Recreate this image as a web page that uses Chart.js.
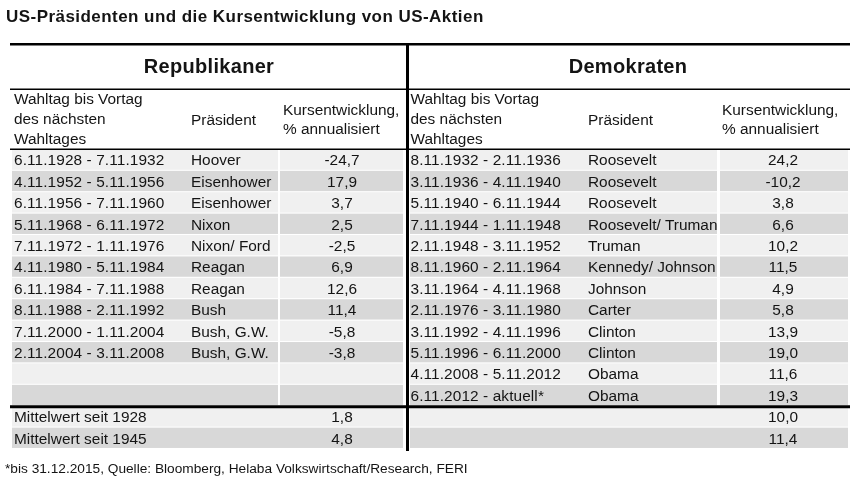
<!DOCTYPE html>
<html>
<head>
  <meta charset="utf-8">
  <title>US-Präsidenten und die Kursentwicklung von US-Aktien</title>
  <script src="https://cdn.jsdelivr.net/npm/chart.js"></script>
  <style>
    html, body { margin: 0; padding: 0; background: #fff; }
    #chart { display: block; }
  </style>
</head>
<body>
  <canvas id="chart" width="850" height="480"></canvas>
  <script>
    // texts
    const title = 'US-Präsidenten und die Kursentwicklung von US-Aktien';
    const parties = ['Republikaner', 'Demokraten'];
    const headPeriod = ['Wahltag bis Vortag', 'des nächsten', 'Wahltages'];
    const headPresident = 'Präsident';
    const headReturn = ['Kursentwicklung,', '% annualisiert'];
    const meanLabels = ['Mittelwert seit 1928', 'Mittelwert seit 1945'];
    const footnote = '*bis 31.12.2015, Quelle: Bloomberg, Helaba Volkswirtschaft/Research, FERI';

    // Republikaner
    const repPeriods = ['6.11.1928 - 7.11.1932', '4.11.1952 - 5.11.1956', '6.11.1956 - 7.11.1960',
      '5.11.1968 - 6.11.1972', '7.11.1972 - 1.11.1976', '4.11.1980 - 5.11.1984', '6.11.1984 - 7.11.1988',
      '8.11.1988 - 2.11.1992', '7.11.2000 - 1.11.2004', '2.11.2004 - 3.11.2008'];
    const repPresidents = ['Hoover', 'Eisenhower', 'Eisenhower', 'Nixon', 'Nixon/ Ford', 'Reagan',
      'Reagan', 'Bush', 'Bush, G.W.', 'Bush, G.W.'];
    const repReturns = [-24.7, 17.9, 3.7, 2.5, -2.5, 6.9, 12.6, 11.4, -5.8, -3.8];
    const repMeans = [1.8, 4.8];

    // Demokraten
    const demPeriods = ['8.11.1932 - 2.11.1936', '3.11.1936 - 4.11.1940', '5.11.1940 - 6.11.1944',
      '7.11.1944 - 1.11.1948', '2.11.1948 - 3.11.1952', '8.11.1960 - 2.11.1964', '3.11.1964 - 4.11.1968',
      '2.11.1976 - 3.11.1980', '3.11.1992 - 4.11.1996', '5.11.1996 - 6.11.2000', '4.11.2008 - 5.11.2012',
      '6.11.2012 - aktuell*'];
    const demPresidents = ['Roosevelt', 'Roosevelt', 'Roosevelt', 'Roosevelt/ Truman', 'Truman',
      'Kennedy/ Johnson', 'Johnson', 'Carter', 'Clinton', 'Clinton', 'Obama', 'Obama'];
    const demReturns = [24.2, -10.2, 3.8, 6.6, 10.2, 11.5, 4.9, 5.8, 13.9, 19.0, 11.6, 19.3];
    const demMeans = [10.0, 11.4];

    // layout (x in page units, y in table rows)
    const dataRows = 12;
    const sides = [
      { name: parties[0], periods: repPeriods, presidents: repPresidents, returns: repReturns, means: repMeans,
        bandA: [12, 278], bandB: [280, 403], date: 14, pres: 191, kurs: 283, val: 342, center: 209 },
      { name: parties[1], periods: demPeriods, presidents: demPresidents, returns: demReturns, means: demMeans,
        bandA: [410, 717], bandB: [720, 848], date: 410.5, pres: 588, kurs: 722, val: 783, center: 628 }
    ];
    const FONT = "'Liberation Sans', Arial, sans-serif";
    const INK = '#141414';
    const fmt = v => v.toFixed(1).replace('.', ',');

    const tablePlugin = {
      id: 'table',
      beforeDraw(chart) {
        const { ctx, scales: { x, y } } = chart;
        ctx.save();
        ctx.fillStyle = '#fff';
        ctx.fillRect(0, 0, chart.width, chart.height);
        const band = (x0, x1, r, col) => {
          const top = y.getPixelForValue(r - 0.05), bot = y.getPixelForValue(r + 0.9);
          ctx.fillStyle = col;
          ctx.fillRect(x.getPixelForValue(x0), top, x.getPixelForValue(x1) - x.getPixelForValue(x0), bot - top);
        };
        sides.forEach(s => {
          for (let r = 0; r < dataRows + 2; r++) {
            const col = r % 2 ? '#d8d8d8' : '#f0f0f0';
            if (r < dataRows) {
              band(s.bandA[0], s.bandA[1], r, col);
              band(s.bandB[0], s.bandB[1], r, col);
            } else {
              band(s.bandA[0], s.bandB[1], r, col);
            }
          }
        });
        ctx.restore();
      },
      afterDraw(chart) {
        const { ctx, scales: { x, y } } = chart;
        const X = v => x.getPixelForValue(v), Y = v => y.getPixelForValue(v);
        ctx.save();
        ctx.strokeStyle = '#000';
        const hline = (r, w) => {
          ctx.lineWidth = w;
          ctx.beginPath(); ctx.moveTo(X(10), Y(r)); ctx.lineTo(X(850), Y(r)); ctx.stroke();
        };
        hline(-4.963, 2.5);
        hline(-2.864, 1.5);
        hline(-0.056, 1.5);
        hline(11.972, 3);
        ctx.lineWidth = 3;
        ctx.beginPath(); ctx.moveTo(X(407.5), Y(-5.02)); ctx.lineTo(X(407.5), Y(14.04)); ctx.stroke();

        const text = (str, xv, r, font, align, spacing) => {
          ctx.font = font;
          ctx.textAlign = align || 'left';
          ctx.textBaseline = 'middle';
          ctx.letterSpacing = spacing || '0px';
          ctx.fillStyle = INK;
          ctx.fillText(str, X(xv), Y(r));
        };
        const body = '15.4px ' + FONT;
        text(title, 6, -6.24, 'bold 17px ' + FONT, 'left', '0.45px');
        sides.forEach(s => {
          text(s.name, s.center, -3.86, 'bold 20px ' + FONT, 'center', '0.3px');
          headPeriod.forEach((t, i) => text(t, s.date, -2.35 + i * 0.935, body));
          text(headPresident, s.pres, -1.39, body);
          headReturn.forEach((t, i) => text(t, s.kurs, -1.88 + i * 0.93, body));
          s.periods.forEach((t, i) => text(t, s.date, i + 0.5, body, 'left', '0.1px'));
          s.presidents.forEach((t, i) => text(t, s.pres, i + 0.5, body));
          s.returns.forEach((v, i) => text(fmt(v), s.val, i + 0.5, body, 'center'));
          s.means.forEach((v, i) => text(fmt(v), s.val, dataRows + i + 0.5, body, 'center'));
        });
        meanLabels.forEach((t, i) => text(t, sides[0].date, dataRows + i + 0.5, body));
        text(footnote, 5, 14.9, '13.7px ' + FONT);
        ctx.restore();
      }
    };

    const ctx = document.getElementById('chart').getContext('2d');
    const chart = new Chart(ctx, {
      type: 'scatter',
      data: { datasets: [] },
      options: {
        responsive: false,
        animation: false,
        layout: { padding: 0 },
        plugins: { legend: { display: false }, tooltip: { enabled: false } },
        scales: {
          x: { type: 'linear', min: 0, max: 850, display: false },
          y: { type: 'linear', min: -7.033, max: 15.397, reverse: true, display: false }
        }
      },
      plugins: [tablePlugin]
    });
  </script>
</body>
</html>
